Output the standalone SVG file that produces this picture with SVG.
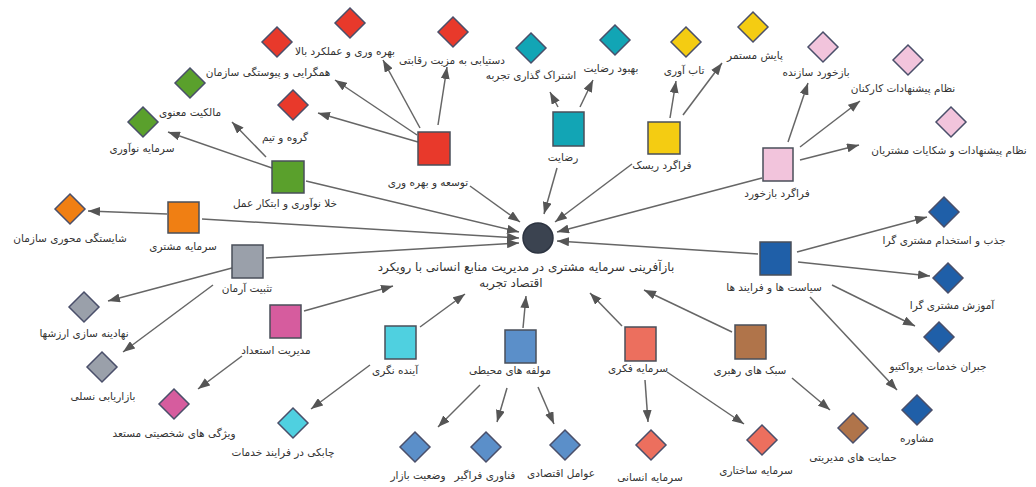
<svg xmlns="http://www.w3.org/2000/svg" width="1036" height="487" viewBox="0 0 1036 487">
<defs>
<marker id="ah" markerUnits="userSpaceOnUse" markerWidth="13" markerHeight="9" refX="12" refY="4.5" orient="auto"><path d="M0,0 L12,4.5 L0,9 z" fill="#555"/></marker>
<style>
.e line{stroke:#666;stroke-width:1.5;marker-end:url(#ah)}
text{font-family:"DejaVu Sans","Noto Sans",sans-serif;font-size:10.5px;fill:#333;text-anchor:middle}
.big{font-size:12px}
.sq{stroke:#4a4f5a;stroke-width:1.5}
.dm{stroke:#4a4f6a;stroke-width:1.5}
</style>
</defs>
<rect width="1036" height="487" fill="#fff"/>
<g class="e" id="connectors">
<line x1="470" y1="186" x2="520" y2="222"/>
<line x1="306" y1="181" x2="519" y2="232"/>
<line x1="202" y1="219" x2="519" y2="238"/>
<line x1="266" y1="258" x2="519" y2="243"/>
<line x1="304" y1="311" x2="393" y2="286"/>
<line x1="420" y1="327" x2="465" y2="294"/>
<line x1="523" y1="328" x2="526" y2="296"/>
<line x1="622" y1="326" x2="590" y2="293"/>
<line x1="732" y1="332" x2="644" y2="290"/>
<line x1="758" y1="254" x2="557" y2="241"/>
<line x1="762" y1="178" x2="557" y2="232"/>
<line x1="632" y1="164" x2="555" y2="222"/>
<line x1="557" y1="168" x2="544" y2="214"/>
<line x1="418" y1="142" x2="318" y2="113"/>
<line x1="417" y1="135" x2="335" y2="80"/>
<line x1="420" y1="128" x2="383" y2="60"/>
<line x1="438" y1="125" x2="447" y2="67"/>
<line x1="272" y1="168" x2="168" y2="132"/>
<line x1="266" y1="157" x2="232" y2="122"/>
<line x1="167" y1="214" x2="88" y2="211"/>
<line x1="232" y1="268" x2="108" y2="301"/>
<line x1="213" y1="285" x2="123" y2="352"/>
<line x1="242" y1="356" x2="198" y2="389"/>
<line x1="370" y1="365" x2="311" y2="409"/>
<line x1="480" y1="385" x2="438" y2="427"/>
<line x1="507" y1="388" x2="497" y2="422"/>
<line x1="538" y1="387" x2="554" y2="424"/>
<line x1="645" y1="380" x2="648" y2="422"/>
<line x1="667" y1="372" x2="744" y2="424"/>
<line x1="792" y1="378" x2="830" y2="410"/>
<line x1="797" y1="252" x2="927" y2="217"/>
<line x1="798" y1="262" x2="930" y2="276"/>
<line x1="832" y1="285" x2="915" y2="326"/>
<line x1="810" y1="297" x2="897" y2="390"/>
<line x1="788" y1="142" x2="808" y2="83"/>
<line x1="800" y1="147" x2="860" y2="101"/>
<line x1="800" y1="160" x2="859" y2="145"/>
<line x1="670" y1="118" x2="676" y2="81"/>
<line x1="683" y1="115" x2="722" y2="63"/>
<line x1="558" y1="107" x2="550" y2="92"/>
<line x1="580" y1="107" x2="593" y2="80"/>
</g>
<g id="center"><circle cx="538" cy="238" r="15" fill="#3b4350" stroke="#2c3340" stroke-width="1.5"/>
<text class="big" x="526" y="271">بازآفرینی سرمایه مشتری در مدیریت منابع انسانی با رویکرد</text>
<text class="big" x="511" y="287">اقتصاد تجربه</text></g>

<g id="n-tosee"><rect class="sq" x="418" y="132" width="32" height="33" fill="#e8392b"/><text x="428" y="186">توسعه و بهره وری</text></g>
<g id="n-gorooh"><path class="dm" d="M293,90 L308,105 L293,120 L278,105 z" fill="#e8392b"/><text x="285" y="141">گروه و تیم</text></g>
<g id="n-hamgerayi"><path class="dm" d="M277,27 L292,42 L277,57 L262,42 z" fill="#e8392b"/><text x="268" y="76">همگرایی و پیوستگی سازمان</text></g>
<g id="n-bahrevari"><path class="dm" d="M350,8 L365,23 L350,38 L335,23 z" fill="#e8392b"/><text x="345" y="55">بهره وری و عملکرد بالا</text></g>
<g id="n-dastyabi"><path class="dm" d="M453,17 L468,32 L453,47 L438,32 z" fill="#e8392b"/><text x="452" y="64">دستیابی به مزیت رقابتی</text></g>

<g id="n-khala"><rect class="sq" x="272" y="161" width="32" height="32" fill="#5aa02c"/><text x="285" y="207">خلا نوآوری و ابتکار عمل</text></g>
<g id="n-malekiyat"><path class="dm" d="M190,68 L205,83 L190,98 L175,83 z" fill="#5aa02c"/><text x="190" y="116">مالکیت معنوی</text></g>
<g id="n-noavari"><path class="dm" d="M143,107 L158,122 L143,137 L128,122 z" fill="#5aa02c"/><text x="142" y="152">سرمایه نوآوری</text></g>

<g id="n-moshtari"><rect class="sq" x="168" y="202" width="31" height="31" fill="#f07f13"/><text x="183" y="250">سرمایه مشتری</text></g>
<g id="n-shayestegi"><path class="dm" d="M70,194 L85,209 L70,224 L55,209 z" fill="#f07f13"/><text x="70" y="242">شایستگی محوری سازمان</text></g>

<g id="n-tasbit"><rect class="sq" x="232" y="245" width="31" height="33" fill="#9aa0aa"/><text x="247" y="292">تثبیت آرمان</text></g>
<g id="n-nahadine"><path class="dm" d="M84,292 L99,307 L84,322 L69,307 z" fill="#9aa0aa"/><text x="84" y="337">نهادینه سازی ارزشها</text></g>
<g id="n-naslii"><path class="dm" d="M102,352 L117,367 L102,382 L87,367 z" fill="#9aa0aa"/><text x="103" y="400">بازاریابی نسلی</text></g>

<g id="n-esteedad"><rect class="sq" x="270" y="305" width="31" height="33" fill="#d65c9e"/><text x="276" y="354">مدیریت استعداد</text></g>
<g id="n-vijegi"><path class="dm" d="M174,389 L189,404 L174,419 L159,404 z" fill="#d65c9e"/><text x="174" y="437">ویژگی های شخصیتی مستعد</text></g>

<g id="n-ayande"><rect class="sq" x="385" y="326" width="31" height="33" fill="#4fd0e0"/><text x="395" y="374">آینده نگری</text></g>
<g id="n-chaboki"><path class="dm" d="M293,408 L308,423 L293,438 L278,423 z" fill="#4fd0e0"/><text x="283" y="456">چابکی  در فرایند خدمات</text></g>

<g id="n-molafe"><rect class="sq" x="505" y="330" width="31" height="33" fill="#5b8fc9"/><text x="510" y="374">مولفه های محیطی</text></g>
<g id="n-bazar"><path class="dm" d="M415,432 L430,447 L415,462 L400,447 z" fill="#5b8fc9"/><text x="418" y="479">وضعیت بازار</text></g>
<g id="n-fanavari"><path class="dm" d="M486,432 L501,447 L486,462 L471,447 z" fill="#5b8fc9"/><text x="485" y="479">فناوری فراگیر</text></g>
<g id="n-eghtesadi"><path class="dm" d="M565,430 L580,445 L565,460 L550,445 z" fill="#5b8fc9"/><text x="561" y="477">عوامل اقتصادی</text></g>

<g id="n-fekri"><rect class="sq" x="625" y="327" width="31" height="34" fill="#ec6f5e"/><text x="638" y="372">سرمایه فکری</text></g>
<g id="n-ensani"><path class="dm" d="M651,430 L666,445 L651,460 L636,445 z" fill="#ec6f5e"/><text x="650" y="481">سرمایه انسانی</text></g>
<g id="n-sakhtari"><path class="dm" d="M762,425 L777,440 L762,455 L747,440 z" fill="#ec6f5e"/><text x="756" y="474">سرمایه ساختاری</text></g>

<g id="n-sabk"><rect class="sq" x="735" y="325" width="31" height="34" fill="#b0744a"/><text x="750" y="374">سبک های رهبری</text></g>
<g id="n-hemayat"><path class="dm" d="M853,413 L868,428 L853,443 L838,428 z" fill="#b0744a"/><text x="853" y="461">حمایت های مدیریتی</text></g>

<g id="n-siyasat"><rect class="sq" x="760" y="242" width="31" height="33" fill="#1f5fa8"/><text x="774" y="291">سیاست ها و فرایند ها</text></g>
<g id="n-jazb"><path class="dm" d="M944,197 L959,212 L944,227 L929,212 z" fill="#1f5fa8"/><text x="944" y="244">جذب و استخدام مشتری گرا</text></g>
<g id="n-amoozesh"><path class="dm" d="M948,263 L963,278 L948,293 L933,278 z" fill="#1f5fa8"/><text x="952" y="309">آموزش  مشتری گرا</text></g>
<g id="n-jobran"><path class="dm" d="M939,322 L954,337 L939,352 L924,337 z" fill="#1f5fa8"/><text x="938" y="370">جبران خدمات پرواکتیو</text></g>
<g id="n-moshavere"><path class="dm" d="M917,395 L932,410 L917,425 L902,410 z" fill="#1f5fa8"/><text x="917" y="442">مشاوره</text></g>

<g id="n-bazkhord"><rect class="sq" x="763" y="148" width="30" height="33" fill="#f2c4dc"/><text x="777" y="197">فراگرد بازخورد</text></g>
<g id="n-sazande"><path class="dm" d="M823,32 L838,47 L823,62 L808,47 z" fill="#f2c4dc"/><text x="816" y="76">بازخورد سازنده</text></g>
<g id="n-karkonan"><path class="dm" d="M908,45 L923,60 L908,75 L893,60 z" fill="#f2c4dc"/><text x="903" y="92">نظام پیشنهادات کارکنان</text></g>
<g id="n-shekayat"><path class="dm" d="M951,107 L966,122 L951,137 L936,122 z" fill="#f2c4dc"/><text x="949" y="154">نظام پیشنهادات و شکایات مشتریان</text></g>

<g id="n-risk"><rect class="sq" x="648" y="122" width="32" height="32" fill="#f4cc12"/><text x="662" y="169">فراگرد ریسک</text></g>
<g id="n-tabavari"><path class="dm" d="M686,27 L701,42 L686,57 L671,42 z" fill="#f4cc12"/><text x="684" y="74">تاب آوری</text></g>
<g id="n-payesh"><path class="dm" d="M753,12 L768,27 L753,42 L738,27 z" fill="#f4cc12"/><text x="755" y="59">پایش مستمر</text></g>

<g id="n-rezayat"><rect class="sq" x="553" y="112" width="31" height="34" fill="#12a5b5"/><text x="563" y="161">رضایت</text></g>
<g id="n-eshterak"><path class="dm" d="M531,33 L546,48 L531,63 L516,48 z" fill="#12a5b5"/><text x="531" y="79">اشتراک گذاری تجربه</text></g>
<g id="n-behbood"><path class="dm" d="M615,25 L630,40 L615,55 L600,40 z" fill="#12a5b5"/><text x="611" y="72">بهبود رضایت</text></g>
</svg>
